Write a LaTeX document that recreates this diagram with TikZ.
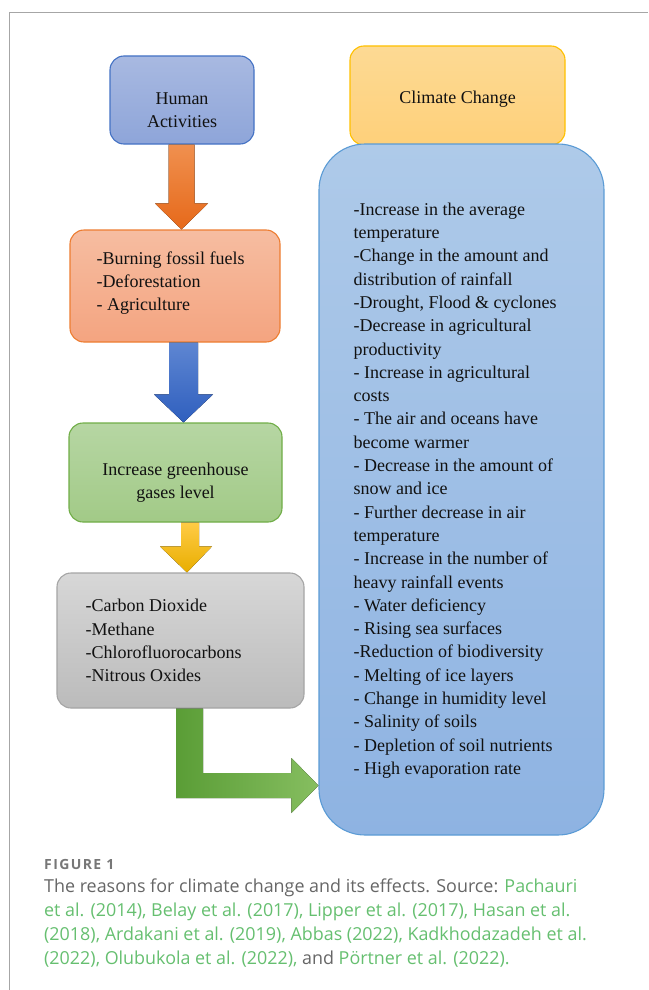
\documentclass[tikz,border=0pt]{standalone}
\usepackage{fontspec}
\setmainfont{Liberation Serif}
\newfontfamily\capfont{Open Sans}
\newfontfamily\labfont[LetterSpace=10]{Open Sans}
\usetikzlibrary{calc}

\definecolor{framegray}{HTML}{A6A6A6}
\definecolor{captext}{HTML}{666666}
\definecolor{caplabel}{HTML}{777777}
\definecolor{caplink}{HTML}{66BF70}
\definecolor{bodytext}{HTML}{111111}
% box outlines and fills
\definecolor{humanline}{HTML}{4472C4}
\definecolor{humantop}{HTML}{A8B9E1}
\definecolor{humanbot}{HTML}{8EA5D9}
\definecolor{causeline}{HTML}{ED7D31}
\definecolor{causetop}{HTML}{F6BDA1}
\definecolor{causebot}{HTML}{F4A480}
\definecolor{ghgline}{HTML}{70AD47}
\definecolor{ghgtop}{HTML}{B6D6A3}
\definecolor{ghgbot}{HTML}{A2CA87}
\definecolor{gasline}{HTML}{A5A5A5}
\definecolor{gastop}{HTML}{D7D7D7}
\definecolor{gasbot}{HTML}{BBBBBB}
\definecolor{climline}{HTML}{FFC000}
\definecolor{climtop}{HTML}{FDDA94}
\definecolor{climbot}{HTML}{FED07A}
\definecolor{effline}{HTML}{5B9BD5}
\definecolor{efftop}{HTML}{AECAE9}
\definecolor{effbot}{HTML}{8EB3E2}
% block arrow shades
\definecolor{orangetop}{HTML}{F0904F}
\definecolor{orangebot}{HTML}{E6691A}
\definecolor{bluetop}{HTML}{5E86D2}
\definecolor{bluebot}{HTML}{2F5FBE}
\definecolor{yellowtop}{HTML}{FFCB45}
\definecolor{yellowbot}{HTML}{E8AE00}
\definecolor{greenleft}{HTML}{5A9D36}
\definecolor{greenright}{HTML}{86BE60}

\tikzset{
  box/.style={draw, line width=1.1pt, rounded corners=14pt, inner sep=0pt},
  boxtext/.style={text=bodytext, font=\fontsize{18}{23.3}\selectfont, inner sep=0pt},
  humanbox/.style={box, draw=humanline, top color=humantop, bottom color=humanbot},
  causebox/.style={box, draw=causeline, top color=causetop, bottom color=causebot},
  ghgbox/.style={box, draw=ghgline, top color=ghgtop, bottom color=ghgbot},
  gasbox/.style={box, draw=gasline, top color=gastop, bottom color=gasbot},
  climbox/.style={box, draw=climline, top color=climtop, bottom color=climbot},
  effectbox/.style={box, draw=effline, rounded corners=46pt, top color=efftop, bottom color=effbot},
}

\begin{document}
\begin{tikzpicture}[x=1pt, y=-1pt]
\useasboundingbox (0,0) rectangle (648,990);

% page frame (left and top rules)
\draw[framegray, line width=1.4pt] (9.5,990) -- (9.5,12.5) -- (648,12.5);

% ---- left column: boxes ----
\node[humanbox, minimum width=144pt, minimum height=88pt] (ha) at (182,100) {};
\node[causebox, minimum width=210pt, minimum height=112pt] (ob) at (175,286) {};
\node[ghgbox, minimum width=213pt, minimum height=99pt] (gh) at (175.5,472.5) {};
\node[gasbox, minimum width=247pt, minimum height=135pt] (gb) at (180.5,640.5) {};
% ---- left column: texts ----
\node[boxtext, align=center] (ha-t) at ($(ha.center)+(0,10)$) {Human\\Activities};
\node[boxtext, align=left, anchor=west] (ob-t) at ($(ob.west)+(27,-3)$)
  {-Burning fossil fuels\\-Deforestation\\- Agriculture};
\node[boxtext, align=center] (gh-t) at ($(gh.center)+(0,10.5)$) {Increase greenhouse\\gases level};
\node[boxtext, align=left, anchor=west] (gb-t) at ($(gb.west)+(29,0)$)
  {-Carbon Dioxide\\-Methane\\-Chlorofluorocarbons\\-Nitrous Oxides};

% ---- right column ----
\node[climbox, minimum width=215pt, minimum height=99pt] (cc) at (457.5,95.5) {};
\node[boxtext] (cc-t) at ($(cc.center)+(0,3.5)$) {Climate Change};
\node[effectbox, minimum width=285pt, minimum height=691pt] (eb) at (461.5,489.5) {};
\node[boxtext, align=left, anchor=west] (eb-t) at ($(eb.west)+(35,1)$)
  {-Increase in the average\\temperature\\-Change in the amount and\\distribution of rainfall\\-Drought, Flood \& cyclones\\-Decrease in agricultural\\productivity\\- Increase in agricultural\\costs\\- The air and oceans have\\become warmer\\- Decrease in the amount of\\snow and ice\\- Further decrease in air\\temperature\\- Increase in the number of\\heavy rainfall events\\- Water deficiency\\- Rising sea surfaces\\-Reduction of biodiversity\\- Melting of ice layers\\- Change in humidity level\\- Salinity of soils\\- Depletion of soil nutrients\\- High evaporation rate};

% ---- block arrows between the boxes ----
\coordinate (c1) at (181.5,0);
\coordinate (c2) at (183.5,0);
\coordinate (c3) at (187,0);
\fill[top color=orangetop, bottom color=orangebot]
  ($(ha.south -| c1)+(-13,0)$) -- ($(ha.south -| c1)+(13,0)$)
  -- ($(ob.north -| c1)+(13,-26)$) -- ($(ob.north -| c1)+(26.5,-26)$)
  -- (ob.north -| c1) -- ($(ob.north -| c1)+(-26.5,-26)$)
  -- ($(ob.north -| c1)+(-13,-26)$) -- cycle;
\fill[top color=bluetop, bottom color=bluebot]
  ($(ob.south -| c2)+(-14.5,0)$) -- ($(ob.south -| c2)+(14.5,0)$)
  -- ($(gh.north -| c2)+(14.5,-28)$) -- ($(gh.north -| c2)+(29.5,-28)$)
  -- (gh.north -| c2) -- ($(gh.north -| c2)+(-29.5,-28)$)
  -- ($(gh.north -| c2)+(-14.5,-28)$) -- cycle;
\fill[top color=yellowtop, bottom color=yellowbot]
  ($(gh.south -| c3)+(-6,0)$) -- ($(gh.south -| c3)+(12,0)$)
  -- ($(gb.north -| c3)+(12,-26)$) -- ($(gb.north -| c3)+(25,-26)$)
  -- (gb.north -| c3) -- ($(gb.north -| c3)+(-27,-26)$)
  -- ($(gb.north -| c3)+(-6,-26)$) -- cycle;
% bent arrow from the gases into the effects box
\coordinate (gtip) at (eb.west |- {(0,785.5)});
\coordinate (gx) at (176,0);
\fill[left color=greenleft, right color=greenright]
  (gb.south -| gx) -- ($(gb.south -| gx)+(27,0)$)
  -- ($(gtip -| gx)+(27,-12.5)$) -- ($(gtip)+(-27,-12.5)$)
  -- ($(gtip)+(-27,-27.5)$) -- (gtip) -- ($(gtip)+(-27,27.5)$)
  -- ($(gtip)+(-27,12.5)$) -- ($(gtip -| gx)+(0,12.5)$) -- cycle;

% ---- caption ----
\node[anchor=base west, inner sep=0pt, text=caplabel,
  font=\labfont\fontsize{14}{16}\selectfont\bfseries] (fig) at (44,869) {FIGURE 1};
\node[anchor=north west, inner sep=0pt, align=left, text=captext,
  font=\capfont\fontsize{17.9}{23.7}\selectfont] (cap) at (44,879)
  {The reasons for climate change and its effects. Source: \textcolor{caplink}{Pachauri}\\
   \textcolor{caplink}{et al. (2014), Belay et al. (2017), Lipper et al. (2017), Hasan et al.}\\
   \textcolor{caplink}{(2018), Ardakani et al. (2019), Abbas (2022), Kadkhodazadeh et al.}\\
   \textcolor{caplink}{(2022), Olubukola et al. (2022),} and \textcolor{caplink}{Pörtner et al. (2022).}};
\end{tikzpicture}
\end{document}
